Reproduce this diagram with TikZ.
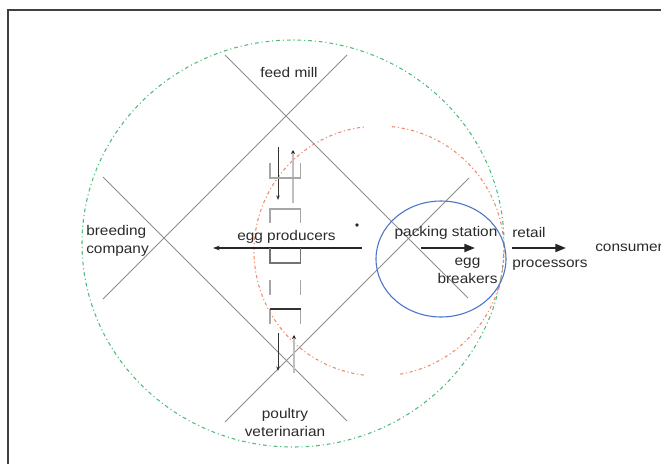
\documentclass[tikz,border=0pt]{standalone}
\usepackage{fontspec}
\setmainfont{Liberation Sans}
\usepackage{graphicx}
\usetikzlibrary{arrows.meta}
\definecolor{lgray}{HTML}{8E8E8E}
\definecolor{grn}{HTML}{4DBB7A}
\definecolor{org}{HTML}{F3876A}
\definecolor{blu}{HTML}{4A72C8}
\definecolor{txt}{HTML}{2A2A2A}
\newcommand\hs[1]{\scalebox{1.1}[1]{#1}}
\begin{document}
\begin{tikzpicture}[x=0.75pt,y=-0.75pt,
  lbl/.style={font=\fontsize{10.5}{13.5}\selectfont, text=txt, inner sep=0pt},
  diag/.style={draw=lgray, line width=0.7pt},
  greenring/.style={draw=grn, line width=0.8pt, dash pattern=on 2.8pt off 2.2pt on 0.8pt off 2.2pt},
  orangering/.style={draw=org, line width=0.8pt, dash pattern=on 2.4pt off 2pt on 0.8pt off 2pt},
  bluering/.style={draw=blu, line width=0.8pt},
  bigarrow/.style={draw=black!85, line width=1.5pt, -{Triangle[length=8pt,width=6pt]}},
  leftarrow/.style={draw=black!85, line width=1.2pt, -{Stealth[length=5pt,width=3.5pt]}},
  downarrow/.style={draw=black!80, line width=0.6pt, -{Stealth[length=3.5pt,width=2.6pt]}},
  upline/.style={draw=black!25, line width=1.5pt, -{Stealth[length=3pt,width=3pt,color=black!85]}},
  boxlight/.style={draw=black!35, line width=0.8pt},
  boxmid/.style={draw=black!55, line width=0.8pt},
  boxdark/.style={draw=black!80, line width=1.3pt}]
\useasboundingbox (0,0) rectangle (661,464);
\clip (0,0) rectangle (661,464);
% frame
\draw[draw=black!75, line width=1.2pt] (8,470) -- (8,10) -- (670,10);
% diamond lines
\draw[diag] (225,55) -- (468,298);
\draw[diag] (347,55) -- (103,299);
\draw[diag] (103,177) -- (347,421);
\draw[diag] (469,178) -- (225,422);
% rings
\draw[greenring] (293,243.5) ellipse [x radius=211, y radius=203.5];
\coordinate (oc) at (379,251);
\draw[orangering] (oc) ++(97:125) arc[start angle=97, end angle=264, radius=125];
\draw[orangering] (oc) ++(276:125) arc[start angle=276, end angle=441, radius=125];
\draw[bluering] (441,259) ellipse [x radius=65, y radius=58];
% labels
\node[lbl] (feed) at (289,72) {\hs{feed mill}};
\node[lbl, anchor=west, align=left] (breed) at (86,241) {\hs{breeding}\\\hs{company}};
\node[lbl, align=center] (vet) at (285,422) {\hs{poultry}\\\hs{veterinarian}};
\node[lbl] (prod) at (286.5,237) {\hs{egg producers}};
\node[lbl] (pack) at (446,233) {\hs{packing station}};
\node[lbl, align=center] (brk) at (467.5,271) {\hs{egg}\\\hs{breakers}};
\node[lbl, anchor=west] (retail) at (512,232) {\hs{retail}};
\node[lbl, anchor=west] (proc) at (512,265) {\hs{processors}};
\node[lbl, anchor=west] (cons) at (595,248) {\hs{consumer}};
% arrows
\coordinate (pa) at (362,248);
\coordinate (pb) at (213,248);
\draw[leftarrow] (pa) -- (pb);
\coordinate (qa) at (421,248);
\coordinate (qb) at (475,248);
\draw[bigarrow] (qa) -- (qb);
\coordinate (ra) at (512,248);
\coordinate (rb) at (566,248);
\draw[bigarrow] (ra) -- (rb);
\fill[black!85] (357,225) circle[radius=1.8];
% vertical structure, top
\coordinate (t1a) at (278,147); \coordinate (t1b) at (278,200);
\draw[downarrow] (t1a) -- (t1b);
\coordinate (t2a) at (293,203); \coordinate (t2b) at (293,150);
\draw[upline] (t2a) -- (t2b);
\draw[boxlight] (270,163) -- (270,178) -- (300.5,178) -- (300.5,163);
% box segments
\draw[boxlight] (270,223) -- (270,209) -- (300.5,209) -- (300.5,223);
\draw[boxmid] (270,248) -- (270,263) -- (300.5,263) -- (300.5,248);
\draw[boxlight] (270,280) -- (270,295);
\draw[boxlight] (300.5,280) -- (300.5,295);
\draw[boxlight] (270,309) -- (270,324);
\draw[boxlight] (300.5,309) -- (300.5,324);
\draw[boxdark] (270,309) -- (300.5,309);
% vertical structure, bottom
\coordinate (b1a) at (278,333); \coordinate (b1b) at (278,371);
\draw[downarrow] (b1a) -- (b1b);
\coordinate (b2a) at (294,373); \coordinate (b2b) at (294,335);
\draw[upline] (b2a) -- (b2b);
\end{tikzpicture}
\end{document}
